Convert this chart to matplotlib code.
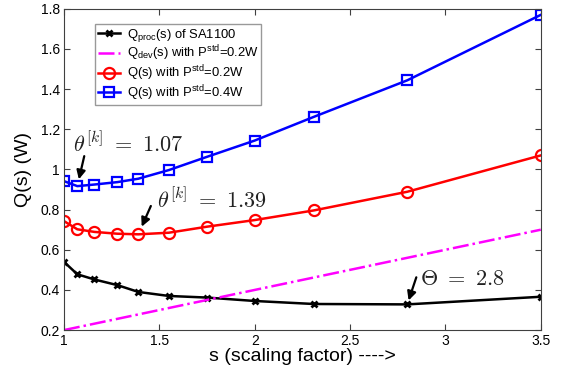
import matplotlib
matplotlib.use('Agg')
import matplotlib.pyplot as plt
from matplotlib.ticker import FormatStrFormatter

plt.rcParams['font.family'] = ['Liberation Sans', 'DejaVu Sans']
plt.rcParams['mathtext.fontset'] = 'custom'
plt.rcParams['mathtext.rm'] = 'Liberation Sans'
plt.rcParams['mathtext.it'] = 'Liberation Sans:italic'
plt.rcParams['mathtext.bf'] = 'Liberation Sans:bold'

# ---- data ----
s_vals = [1.0, 1.07, 1.16, 1.28, 1.39, 1.55, 1.75, 2.0, 2.31, 2.8, 3.5]
q_proc = [0.54, 0.478, 0.452, 0.424, 0.39, 0.37, 0.362, 0.345, 0.33, 0.328, 0.366]
q_02 = [0.743, 0.702, 0.689, 0.68, 0.677, 0.685, 0.715, 0.748, 0.796, 0.889, 1.07]
q_04 = [0.942, 0.917, 0.925, 0.937, 0.954, 0.997, 1.063, 1.144, 1.262, 1.444, 1.77]
s_dev = [1.0, 3.5]
q_dev = [0.2, 0.7]

labels = [r'Q$_{\rm proc}$(s) of SA1100',
          r'Q$_{\rm dev}$(s) with P$^{\rm std}$=0.2W',
          r'Q(s) with P$^{\rm std}$=0.2W',
          r'Q(s) with P$^{\rm std}$=0.4W']

# index of the minimum points marked in the chart
k_04 = 1   # s = 1.07
k_02 = 4   # s = 1.39
k_proc = 9 # s = 2.8

fig = plt.figure(figsize=(5.61, 3.68), dpi=100)
ax = fig.add_axes([0.114, 0.103, 0.850, 0.873])

ax.plot(s_vals, q_proc, color='black', lw=1.8, marker='x', ms=5, mew=2, label=labels[0])
ax.plot(s_dev, q_dev, color='magenta', lw=1.8, ls='-.', label=labels[1])
ax.plot(s_vals, q_02, color='red', lw=1.8, marker='o', ms=8, mew=1.6, mfc='none', label=labels[2])
ax.plot(s_vals, q_04, color='blue', lw=1.8, marker='s', ms=7, mew=1.6, mfc='none', label=labels[3])

ax.set_xlim(1, 3.5)
ax.set_ylim(0.2, 1.8)
ax.set_xticks([1, 1.5, 2, 2.5, 3, 3.5])
ax.set_yticks([0.2, 0.4, 0.6, 0.8, 1.0, 1.2, 1.4, 1.6, 1.8])
ax.xaxis.set_major_formatter(FormatStrFormatter('%g'))
ax.yaxis.set_major_formatter(FormatStrFormatter('%g'))
ax.tick_params(direction='in', top=True, right=True, labelsize=10, length=4,
               color='#404040', pad=3)
for sp in ax.spines.values():
    sp.set_color('#404040')

ax.set_xlabel('s (scaling factor) ---->', fontsize=14, labelpad=0)
ax.set_ylabel('Q(s) (W)', fontsize=14, labelpad=6)

leg = ax.legend(loc='upper left', bbox_to_anchor=(0.066, 0.952), borderaxespad=0,
                fontsize=9.4, fancybox=False, handlelength=1.7, labelspacing=0.0,
                borderpad=0.2, handletextpad=0.5)
leg.get_frame().set_edgecolor('#808080')
leg.get_frame().set_linewidth(1.0)

# annotations for the minima
arrow = dict(arrowstyle='-|>', color='black', lw=1.6, mutation_scale=13, shrinkA=0)
ax.annotate('', xy=(s_vals[k_04], q_04[k_04]), xytext=(5, 21.6),
            textcoords='offset points', arrowprops=dict(arrow, shrinkB=5))
ax.annotate('', xy=(s_vals[k_02], q_02[k_02]), xytext=(9, 20.4),
            textcoords='offset points', arrowprops=dict(arrow, shrinkB=6))
ax.annotate('', xy=(s_vals[k_proc], q_proc[k_proc]), xytext=(6.5, 19.5),
            textcoords='offset points', arrowprops=dict(arrow, shrinkB=3))

ax.text(1.047, 1.087, r'$\theta^{[k]}\ =\ 1.07$', fontsize=16, math_fontfamily='cm',
        color='#222222', va='baseline')
ax.text(1.487, 0.808, r'$\theta^{[k]}\ =\ 1.39$', fontsize=16, math_fontfamily='cm',
        color='#222222', va='baseline')
ax.text(2.866, 0.424, r'$\Theta\ =\ 2.8$', fontsize=16, math_fontfamily='cm',
        color='#222222', va='baseline')

fig.savefig('out.png', dpi=100)
